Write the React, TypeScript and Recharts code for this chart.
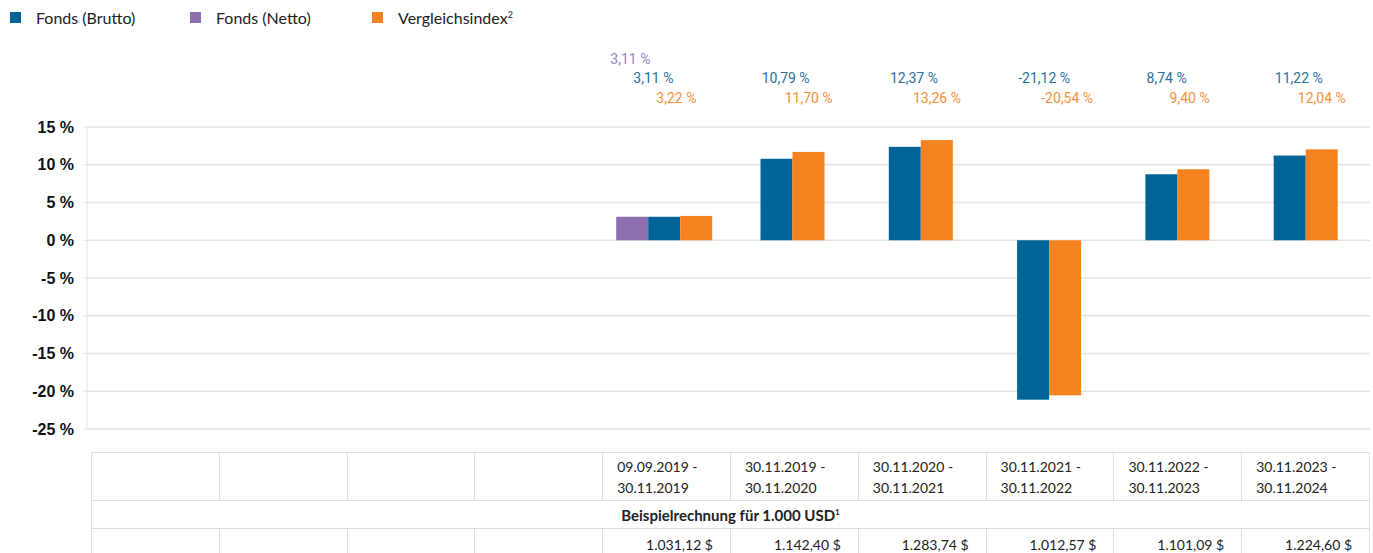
import React from "react";
import { BarChart, Bar, XAxis, YAxis, CartesianGrid } from "recharts";

const periods = [
  "",
  "",
  "",
  "",
  "09.09.2019 - 30.11.2019",
  "30.11.2019 - 30.11.2020",
  "30.11.2020 - 30.11.2021",
  "30.11.2021 - 30.11.2022",
  "30.11.2022 - 30.11.2023",
  "30.11.2023 - 30.11.2024",
];
const netto = [null, null, null, null, 3.11, null, null, null, null, null];
const brutto = [null, null, null, null, 3.11, 10.79, 12.37, -21.12, 8.74, 11.22];
const vergleich = [null, null, null, null, 3.22, 11.7, 13.26, -20.54, 9.4, 12.04];
const beispiel = ["", "", "", "", "1.031,12 $", "1.142,40 $", "1.283,74 $", "1.012,57 $", "1.101,09 $", "1.224,60 $"];
const yTicks = [15, 10, 5, 0, -5, -10, -15, -20, -25];

const BLUE = "#006496";
const ORANGE = "#f5821f";
const PURPLE = "#8c6fb0";
const BLUE_TXT = "#276f9f";
const ORANGE_TXT = "#f5913a";
const PURPLE_TXT = "#9a80c0";
const GRID = "#e3e3e3";

const data = periods.map((p, i) => ({
  key: "c" + i,
  period: p,
  netto: netto[i],
  brutto: brutto[i],
  vergleich: vergleich[i],
}));

const fmt = (v: number) => v.toFixed(2).replace(".", ",") + " %";

// bars of the categories without a Netto value are centred in the slot
function ShiftedBar(props: any) {
  const { x, y, width, height, fill, payload } = props;
  if (x == null || height == null) return null;
  const dx = payload && payload.netto == null ? -width / 2 : 0;
  const top = Math.min(y, y + height);
  const h = Math.abs(height);
  return <rect x={x + dx} y={top} width={width} height={h} fill={fill} />;
}

function TopLabels(props: any) {
  const { x, y, payload } = props;
  const d = data[payload.index];
  if (!d) return null;
  const font = { fontFamily: "Roboto, sans-serif", fontSize: 14 };
  return (
    <g>
      {d.netto != null && (
        <text x={x - 54} y={y - 63} fill={PURPLE_TXT} {...font}>
          {fmt(d.netto)}
        </text>
      )}
      {d.brutto != null && (
        <text x={x - 31} y={y - 44} fill={BLUE_TXT} {...font}>
          {fmt(d.brutto)}
        </text>
      )}
      {d.vergleich != null && (
        <text x={x - 8} y={y - 24} fill={ORANGE_TXT} {...font}>
          {fmt(d.vergleich)}
        </text>
      )}
    </g>
  );
}

function LegendItem({ color, label, sup, left }: { color: string; label: string; sup?: string; left: number }) {
  return (
    <div style={{ position: "absolute", left, top: 6, display: "flex", alignItems: "center", height: 22 }}>
      <span style={{ width: 11, height: 11, background: color, display: "inline-block", marginRight: 15 }} />
      <span style={{ fontSize: 16, color: "#222" }}>
        {label}
        {sup && <sup style={{ fontSize: 9 }}>{sup}</sup>}
      </span>
    </div>
  );
}

const cell: React.CSSProperties = {
  border: "1px solid #dedede",
  padding: 0,
  fontSize: 14,
  color: "#222",
};

export default function App() {
  return (
    <div
      style={{
        position: "relative",
        width: 1373,
        height: 553,
        overflow: "hidden",
        background: "#fff",
        fontFamily: "Lato, 'Open Sans', sans-serif",
      }}
    >
      <style>{`body{margin:0}`}</style>
      <LegendItem color={BLUE} label="Fonds (Brutto)" left={10} />
      <LegendItem color={PURPLE} label="Fonds (Netto)" left={190} />
      <LegendItem color={ORANGE} label="Vergleichsindex" sup="2" left={372} />

      <div style={{ position: "absolute", left: 0, top: 0 }}>
        <BarChart
          width={1373}
          height={441}
          data={data}
          margin={{ top: 57, right: 3, bottom: 12, left: 0 }}
          barSize={32}
          barGap={0}
        >
          <CartesianGrid vertical={false} stroke={GRID} strokeWidth={1.5} />
          <XAxis dataKey="key" hide />
          <XAxis
            xAxisId="top"
            dataKey="key"
            orientation="top"
            height={70}
            axisLine={false}
            tickLine={false}
            tickSize={0}
            tickMargin={0}
            interval={0}
            tick={<TopLabels />}
          />
          <YAxis
            width={87}
            domain={[-25, 15]}
            ticks={yTicks}
            interval={0}
            axisLine={{ stroke: GRID }}
            tickLine={{ stroke: GRID }}
            tickSize={4}
            tickMargin={9}
            tickFormatter={(v: number) => `${v} %`}
            tick={{ fill: "#111", fontSize: 16, fontWeight: 700, fontFamily: "'Liberation Sans', Arial, sans-serif" }}
          />
          <Bar dataKey="netto" fill={PURPLE} isAnimationActive={false} />
          <Bar dataKey="brutto" fill={BLUE} isAnimationActive={false} shape={<ShiftedBar />} />
          <Bar dataKey="vergleich" fill={ORANGE} isAnimationActive={false} shape={<ShiftedBar />} />
        </BarChart>
      </div>

      <table
        style={{
          position: "absolute",
          left: 91,
          top: 452,
          width: 1279,
          borderCollapse: "collapse",
          tableLayout: "fixed",
        }}
      >
        <tbody>
          <tr style={{ height: 48 }}>
            {periods.map((p, i) => {
              const parts = p ? p.split(" - ") : [];
              return (
                <td key={i} style={{ ...cell, paddingLeft: 14, lineHeight: "21px" }}>
                  {parts.length > 0 && (
                    <>
                      {parts[0]} -<br />
                      {parts[1]}
                    </>
                  )}
                </td>
              );
            })}
          </tr>
          <tr style={{ height: 28 }}>
            <td colSpan={10} style={{ ...cell, textAlign: "center", fontWeight: 700, fontSize: 15 }}>
              Beispielrechnung für 1.000 USD<sup style={{ fontSize: 8 }}>1</sup>
            </td>
          </tr>
          <tr style={{ height: 34 }}>
            {beispiel.map((b, i) => (
              <td key={i} style={{ ...cell, textAlign: "right", paddingRight: 17, verticalAlign: "top", paddingTop: 7 }}>
                {b}
              </td>
            ))}
          </tr>
        </tbody>
      </table>
    </div>
  );
}
